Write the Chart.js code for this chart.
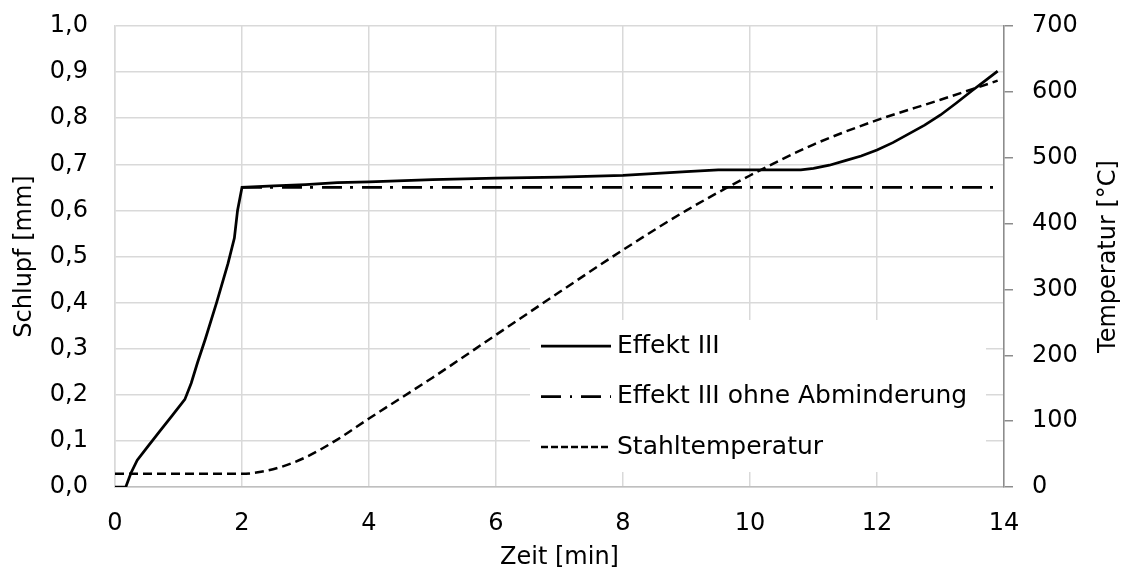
<!DOCTYPE html>
<html lang="de">
<head>
<meta charset="utf-8">
<title>Schlupf und Stahltemperatur</title>
<script src="https://cdn.jsdelivr.net/npm/chart.js@4.4.1/dist/chart.umd.min.js"></script>
<style>
    html, body { margin: 0; padding: 0; background: #fff; }
    #wrap { width: 1128px; height: 576px; }
</style>
</head>
<body>
<div id="wrap"><canvas id="schlupfChart" width="1128" height="576"></canvas></div>
<script>
// Werte

// Effekt III (Schlupf in mm)
const zeitEffekt = [0, 0.17, 0.25, 0.35, 0.5, 0.7, 0.9, 1.1, 1.2, 1.3, 1.42, 1.6, 1.78, 1.88, 1.93, 2.0,
    2.5, 3, 3.5, 4, 5, 6, 7, 8, 9, 9.5, 10, 10.8, 11.0, 11.25, 11.5, 11.75, 12, 12.25, 12.5, 12.75, 13, 13.25, 13.5, 13.7, 13.9];
const schlupfEffekt = [0, 0, 0.03, 0.058, 0.085, 0.12, 0.155, 0.19, 0.225, 0.27, 0.32, 0.40, 0.485, 0.54, 0.6, 0.65,
    0.653, 0.656, 0.66, 0.662, 0.667, 0.67, 0.672, 0.676, 0.684, 0.688, 0.688, 0.688, 0.691, 0.698, 0.708, 0.718, 0.731,
    0.747, 0.766, 0.785, 0.807, 0.833, 0.86, 0.881, 0.902];

// Effekt III ohne Abminderung
const zeitOhne = [2.0, 13.9];
const schlupfOhne = [0.65, 0.65];

// Stahltemperatur (in °C, rechte Achse)
const zeitStahl = [0, 2.0, 2.3, 2.6, 3, 3.5, 4, 5, 6, 7, 8, 9, 10, 11, 12, 13, 13.9];
const tempStahl = [20, 20, 23, 30, 45, 72, 104, 166, 231, 296, 360, 420, 473, 520, 557, 588, 617];

const schrift = "'DejaVu Sans', sans-serif";

// x/y Listen in Punkte umwandeln
function punkte(xs, ys) {
    return xs.map((x, i) => ({ x: x, y: ys[i] }));
}

// Legende im Diagrammbereich (weisser Kasten, wie im Original)
const legendeBox = {
    id: 'legendeBox',
    afterDatasetsDraw(chart, args, opts) {
        const ctx = chart.ctx;
        ctx.save();
        ctx.fillStyle = '#fff';
        ctx.fillRect(opts.left, opts.top, opts.width, opts.height);
        chart.data.datasets.forEach((ds, i) => {
            const y = opts.firstRow + i * opts.rowGap;
            ctx.beginPath();
            ctx.setLineDash(ds.legendDash || []);
            ctx.lineWidth = ds.borderWidth;
            ctx.strokeStyle = ds.borderColor;
            ctx.moveTo(opts.lineStart, y);
            ctx.lineTo(opts.lineEnd, y);
            ctx.stroke();
            ctx.setLineDash([]);
            ctx.fillStyle = '#000';
            ctx.font = opts.fontSize + 'px ' + schrift;
            ctx.textAlign = 'left';
            ctx.textBaseline = 'middle';
            ctx.fillText(ds.label, opts.textStart, y);
        });
        ctx.restore();
    }
};

// Titel der rechten Achse, von unten nach oben gelesen
const rechterTitel = {
    id: 'rechterTitel',
    afterDraw(chart, args, opts) {
        const ctx = chart.ctx;
        const s = chart.scales.y2;
        ctx.save();
        ctx.translate(opts.x, (s.top + s.bottom) / 2);
        ctx.rotate(-Math.PI / 2);
        ctx.fillStyle = '#000';
        ctx.font = '24px ' + schrift;
        ctx.textAlign = 'center';
        ctx.textBaseline = 'middle';
        ctx.fillText(opts.text, 0, 0);
        ctx.restore();
    }
};

Chart.defaults.font.family = schrift;
Chart.defaults.font.size = 24;
Chart.defaults.color = '#000';

// feste Achsenbreiten, ohne Zusatzabstand fuer Randbeschriftungen
function festeBreite(w) {
    return s => { s.width = w; s.paddingTop = 0; s.paddingBottom = 0; };
}

const ctxSchlupf = document.getElementById('schlupfChart').getContext('2d');
const schlupfChart = new Chart(ctxSchlupf, {
    type: 'line',
    data: {
        datasets: [{
            label: 'Effekt III',
            data: punkte(zeitEffekt, schlupfEffekt),
            yAxisID: 'y',
            borderColor: '#000',
            borderWidth: 2.75,
            pointRadius: 0,
            tension: 0,
            legendDash: []
        }, {
            label: 'Effekt III ohne Abminderung',
            data: punkte(zeitOhne, schlupfOhne),
            yAxisID: 'y',
            borderColor: '#000',
            borderWidth: 2.75,
            borderDash: [20, 8, 3, 9],
            borderCapStyle: 'butt',
            pointRadius: 0,
            legendDash: [20, 9, 2, 9]
        }, {
            label: 'Stahltemperatur',
            data: punkte(zeitStahl, tempStahl),
            yAxisID: 'y2',
            borderColor: '#000',
            borderWidth: 2.5,
            borderDash: [9, 5],
            pointRadius: 0,
            cubicInterpolationMode: 'monotone',
            legendDash: [7, 3]
        }]
    },
    options: {
        responsive: false,
        animation: false,
        layout: { padding: { top: 26, left: 0, right: 0, bottom: 0 } },
        plugins: {
            legend: { display: false },
            tooltip: { enabled: false },
            legendeBox: {
                left: 530, top: 320, width: 456, height: 152,
                firstRow: 346, rowGap: 50.5,
                lineStart: 541, lineEnd: 611, textStart: 617, fontSize: 25
            },
            rechterTitel: { x: 1109, text: 'Temperatur [°C]' }
        },
        scales: {
            x: {
                type: 'linear',
                min: 0,
                max: 14,
                ticks: { stepSize: 2, padding: 22 },
                grid: { color: '#d9d9d9', lineWidth: 1.5, drawTicks: false },
                border: { color: '#bfbfbf', width: 1.5 },
                title: { display: true, text: 'Zeit [min]', padding: { top: 0, bottom: 4 } },
                afterFit: s => { s.height = 89; s.paddingLeft = 0; s.paddingRight = 0; }
            },
            y: {
                position: 'left',
                min: 0,
                max: 1,
                ticks: {
                    stepSize: 0.1,
                    padding: 27,
                    callback: v => v.toFixed(1).replace('.', ',')
                },
                grid: { color: '#d9d9d9', lineWidth: 1.5, drawTicks: false },
                border: { color: '#d9d9d9', width: 1.5 },
                title: { display: true, text: 'Schlupf [mm]', padding: { top: 10, bottom: 0 } },
                afterFit: festeBreite(115)
            },
            y2: {
                position: 'right',
                min: 0,
                max: 700,
                ticks: { stepSize: 100, padding: 19 },
                grid: { drawOnChartArea: false, drawTicks: true, tickLength: 9, color: '#8c8c8c', lineWidth: 1.5 },
                border: { color: '#8c8c8c', width: 1.5 },
                afterFit: festeBreite(124)
            }
        }
    },
    plugins: [legendeBox, rechterTitel]
});
</script>
</body>
</html>
